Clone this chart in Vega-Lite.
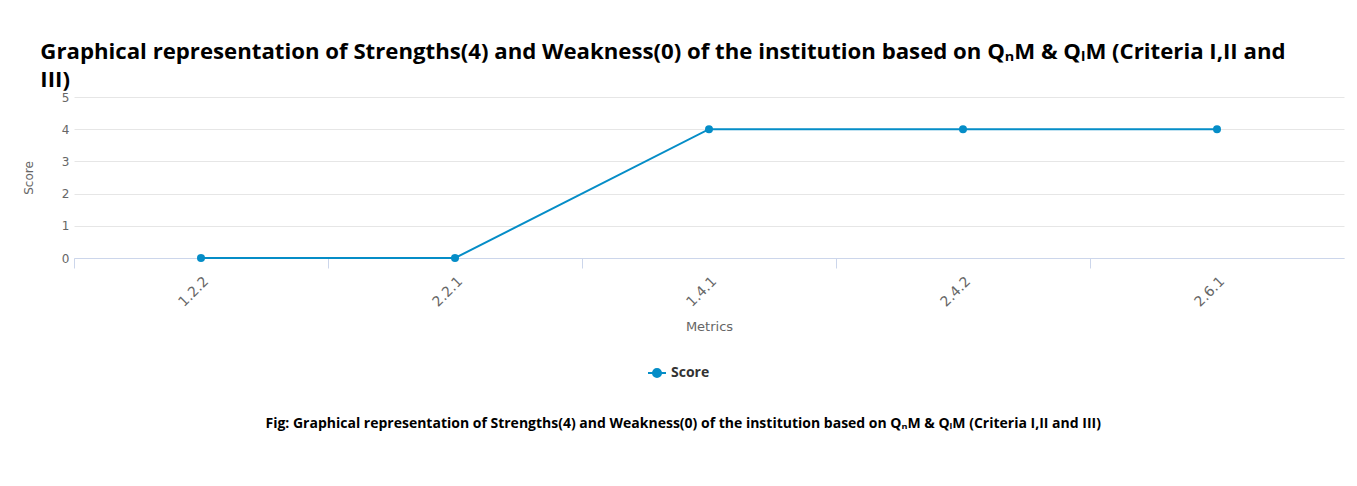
{
  "$schema": "https://vega.github.io/schema/vega-lite/v6.json",
  "padding": {"left": 22, "top": 40, "right": 11, "bottom": 40},
  "background": "#ffffff",
  "title": {
    "text": ["Graphical representation of Strengths(4) and Weakness(0) of the institution based on QₙM & QₗM (Criteria I,II and", "III)"],
    "anchor": "start",
    "frame": "bounds",
    "dx": 18,
    "offset": 0,
    "font": "Open Sans",
    "fontSize": 22.2,
    "fontWeight": "bold",
    "color": "#000000",
    "lineHeight": 28
  },
  "config": {
    "view": {"stroke": null},
    "font": "DejaVu Sans"
  },
  "vconcat": [
    {
      "width": 1270,
      "height": 161,
      "title": {
        "text": "Fig: Graphical representation of Strengths(4) and Weakness(0) of the institution based on QₙM & QₗM (Criteria I,II and III)",
        "orient": "bottom",
        "anchor": "middle",
        "frame": "bounds",
        "offset": 84,
        "font": "Open Sans",
        "fontSize": 14,
        "fontWeight": "bold",
        "color": "#000000"
      },
      "data": {
        "values": [
          {"metric": "1.2.2", "score": 0},
          {"metric": "2.2.1", "score": 0},
          {"metric": "1.4.1", "score": 4},
          {"metric": "2.4.2", "score": 4},
          {"metric": "2.6.1", "score": 4}
        ]
      },
      "mark": {"type": "line", "strokeWidth": 2, "point": {"filled": true, "size": 64}},
      "encoding": {
        "x": {
          "field": "metric",
          "type": "nominal",
          "sort": null,
          "scale": {"type": "point", "padding": 0.5},
          "axis": {
            "title": "Metrics",
            "labelAngle": -45,
            "labelFontSize": 14,
            "labelColor": "#666666",
            "labelPadding": 6,
            "tickSize": 10,
            "tickColor": "#ccd6eb",
            "domainColor": "#ccd6eb",
            "tickOffset": -127,
            "labelOffset": 127,
            "grid": false,
            "titleFontSize": 13,
            "titleFontWeight": "normal",
            "titleColor": "#666666",
            "titlePadding": 11
          }
        },
        "y": {
          "field": "score",
          "type": "quantitative",
          "scale": {"domain": [0, 5], "nice": false},
          "axis": {
            "title": "Score",
            "values": [0, 1, 2, 3, 4, 5],
            "domain": false,
            "ticks": false,
            "labelPadding": 5,
            "labelFontSize": 12,
            "labelColor": "#666666",
            "gridColor": "#e6e6e6",
            "titleFontSize": 12,
            "titleFontWeight": "normal",
            "titleColor": "#666666",
            "titlePadding": 26
          }
        },
        "color": {
          "datum": "Score",
          "type": "nominal",
          "scale": {"range": ["#058DC7"]},
          "legend": {
            "title": null,
            "orient": "none",
            "legendX": 573,
            "legendY": 266,
            "symbolType": "M-1,0H1M-0.45,0A0.45,0.45,0,1,1,0.45,0A0.45,0.45,0,1,1,-0.45,0Z",
            "symbolSize": 324,
            "symbolStrokeWidth": 2,
            "symbolFillColor": "#058DC7",
            "symbolStrokeColor": "#058DC7",
            "labelFont": "Open Sans",
            "labelFontSize": 14,
            "labelFontWeight": "bold",
            "labelColor": "#333333",
            "encode": {
              "symbols": {
                "update": {
                  "stroke": {"value": "#058DC7"},
                  "strokeWidth": {"value": 2},
                  "fill": {"value": "#058DC7"},
                  "opacity": {"value": 1}
                }
              }
            }
          }
        }
      }
    }
  ]
}
